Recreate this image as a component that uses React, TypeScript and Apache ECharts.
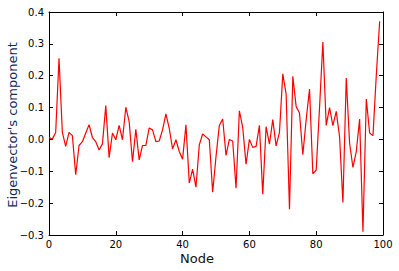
import React, { useEffect, useRef } from "react";
import * as echarts from "echarts";

const nodes: number[] = Array.from({ length: 100 }, (_, i) => i);
const values: number[] = [
  0.006, 0.001, 0.022, 0.255, 0.022, -0.022, 0.022, 0.012, -0.111, -0.019,
  -0.007, 0.02, 0.046, 0.006, -0.007, -0.033, -0.014, 0.106, -0.057, 0.02,
  -0.001, 0.044, -0.001, 0.101, 0.056, -0.07, 0.032, -0.064, -0.019, -0.019,
  0.036, 0.03, -0.007, -0.005, 0.03, 0.08, 0.035, -0.03, -0.001, -0.038,
  -0.062, 0.046, -0.137, -0.093, -0.15, -0.017, 0.017, 0.008, -0.001, -0.166,
  -0.054, 0.044, 0.064, -0.05, 0.0, -0.005, -0.153, 0.09, 0.037, -0.078,
  0.0, -0.025, -0.022, 0.044, -0.172, 0.04, -0.015, 0.062, -0.02, 0.022,
  0.206, 0.142, -0.219, 0.198, 0.103, 0.083, -0.048, 0.062, 0.158, -0.108,
  -0.096, 0.1, 0.306, 0.044, 0.1, 0.043, 0.088, 0.008, -0.198, 0.193,
  -0.012, -0.088, -0.038, 0.064, -0.29, 0.127, 0.02, 0.012, 0.203, 0.371,
];
const xTicks: number[] = [0, 20, 40, 60, 80, 100];
const yTicks: number[] = [-0.3, -0.2, -0.1, 0.0, 0.1, 0.2, 0.3, 0.4];
const xTitle = "Node";
const yTitle = "Eigenvector's component";

const FONT = "DejaVu Sans";

export default function App() {
  const ref = useRef<HTMLDivElement>(null);
  useEffect(() => {
    if (!ref.current) return;
    const chart = echarts.init(ref.current, undefined, { renderer: "svg" });
    const fmtY = (v: number) => v.toFixed(1).replace("-", "\u2212");
    const baseAxisLine = { show: true, onZero: false, lineStyle: { color: "#000", width: 1 } };
    const tick = { show: true, inside: true, length: 4, lineStyle: { color: "#000", width: 1 } };
    chart.setOption({
      animation: false,
      backgroundColor: "#fff",
      grid: { left: 49, right: 16, top: 12, bottom: 36, containLabel: false },
      xAxis: [
        {
          type: "value",
          min: xTicks[0],
          max: xTicks[xTicks.length - 1],
          interval: 20,
          position: "bottom",
          axisLine: baseAxisLine,
          axisTick: tick,
          splitLine: { show: false },
          axisLabel: { color: "#000", fontFamily: FONT, fontSize: 10, margin: 4 },
        },
        {
          type: "value",
          min: xTicks[0],
          max: xTicks[xTicks.length - 1],
          interval: 20,
          position: "top",
          axisLine: baseAxisLine,
          axisTick: tick,
          splitLine: { show: false },
          axisLabel: { show: false },
        },
      ],
      yAxis: [
        {
          type: "value",
          min: yTicks[0],
          max: yTicks[yTicks.length - 1],
          interval: 0.1,
          position: "left",
          axisLine: baseAxisLine,
          axisTick: tick,
          splitLine: { show: false },
          axisLabel: { color: "#000", fontFamily: FONT, fontSize: 10, margin: 5, formatter: fmtY },
        },
        {
          type: "value",
          min: yTicks[0],
          max: yTicks[yTicks.length - 1],
          interval: 0.1,
          position: "right",
          axisLine: baseAxisLine,
          axisTick: tick,
          splitLine: { show: false },
          axisLabel: { show: false },
        },
      ],
      graphic: [
        {
          type: "text",
          x: 197,
          y: 258,
          style: {
            text: xTitle,
            fontFamily: FONT,
            fontSize: 13,
            fill: "#111",
            align: "center",
            verticalAlign: "middle",
          },
        },
        {
          type: "text",
          x: 12,
          y: 125,
          rotation: Math.PI / 2,
          style: {
            text: yTitle,
            fontFamily: FONT,
            fontSize: 13,
            fill: "#142a5c",
            align: "center",
            verticalAlign: "middle",
          },
        },
      ],
      series: [
        {
          type: "line",
          xAxisIndex: 0,
          yAxisIndex: 0,
          data: nodes.map((n, i) => [n, values[i]]),
          showSymbol: false,
          symbol: "none",
          lineStyle: { color: "#ff0000", width: 1.2 },
        },
      ],
    });
    return () => chart.dispose();
  }, []);
  return <div ref={ref} style={{ width: 399, height: 271, position: "absolute", left: 0, top: 0 }} />;
}
